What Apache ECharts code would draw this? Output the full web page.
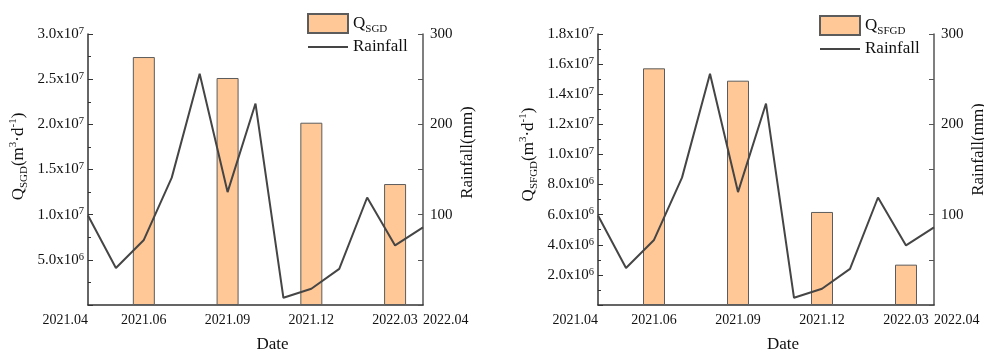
<!DOCTYPE html>
<html>
<head>
<meta charset="utf-8">
<script src="https://cdn.jsdelivr.net/npm/echarts@6/dist/echarts.min.js"></script>
<style>
  html, body { margin: 0; padding: 0; background: #fff; }
  #chart { width: 984px; height: 349px; }
</style>
</head>
<body>
<div id="chart"></div>
<script>
// Monthly rainfall series, April 2021 – April 2022
const months = ['2021.04', '2021.05', '2021.06', '2021.07', '2021.08', '2021.09', '2021.10',
                '2021.11', '2021.12', '2022.01', '2022.02', '2022.03', '2022.04'];
const rainfall = [99, 41, 72, 141, 256, 125, 223, 8, 18, 40, 119, 66, 86];

// Months labelled on the date axis
const shownMonths = ['2021.04', '2021.06', '2021.09', '2021.12', '2022.03', '2022.04'];

// Discharge estimates for the four sampling campaigns (m3/d)
const sampleMonths = ['2021.06', '2021.09', '2021.12', '2022.03'];
const qSGD = [2.745e7, 2.513e7, 2.018e7, 1.339e7];
const qSFGD = [1.572e7, 1.490e7, 6.18e6, 2.68e6];

const FONT = 'Liberation Serif';
const TEXT = '#111';
const AXIS = '#333';

const chart = echarts.init(document.getElementById('chart'));

// "a.bx10^n" labels with a raised exponent
function sciLabel(v) {
  if (v <= 0) return '';
  const e = Math.floor(Math.log10(v) + 1e-9);
  const m = (v / Math.pow(10, e)).toFixed(1);
  return '{m|' + m + 'x10}{s|' + e + '}';
}
const sciRich = {
  m: { fontFamily: FONT, fontSize: 15, lineHeight: 17, color: TEXT },
  s: { fontFamily: FONT, fontSize: 10.5, lineHeight: 11, verticalAlign: 'top', color: TEXT }
};
const titleRich = {
  q: { fontFamily: FONT, fontSize: 17, lineHeight: 22, color: TEXT },
  sub: { fontFamily: FONT, fontSize: 11, lineHeight: 12, verticalAlign: 'bottom', color: TEXT },
  sup: { fontFamily: FONT, fontSize: 11, lineHeight: 12, verticalAlign: 'top', color: TEXT }
};
const legendRich = {
  q: { fontFamily: FONT, fontSize: 17, lineHeight: 22, color: TEXT },
  sub: { fontFamily: FONT, fontSize: 11, lineHeight: 12, verticalAlign: 'bottom', color: TEXT }
};

const grids = [
  { left: 88, right: 561, top: 34, bottom: 44, outerBoundsMode: 'none' },
  { left: 598, right: 50, top: 34, bottom: 44, outerBoundsMode: 'none' }
];

function dateAxis(gridIndex) {
  return {
    type: 'category', gridIndex: gridIndex, data: months, boundaryGap: false,
    axisLine: { show: true, lineStyle: { color: AXIS, width: 1.5 } },
    axisTick: { show: false },
    splitLine: { show: false },
    axisLabel: {
      interval: (i, val) => shownMonths.indexOf(val) >= 0,
      fontFamily: FONT, fontSize: 14, color: TEXT, margin: 8,
      alignMinLabel: 'right', alignMaxLabel: 'left'
    },
    name: 'Date', nameLocation: 'middle', nameGap: 31,
    nameTextStyle: { fontFamily: FONT, fontSize: 17, color: TEXT, padding: [0, 0, 0, 34] }
  };
}

function qAxis(gridIndex, max, interval, title, shift) {
  return {
    type: 'value', gridIndex: gridIndex, position: 'left', min: 0, max: max, interval: interval,
    axisLine: { show: true, lineStyle: { color: AXIS, width: 1.5 } },
    axisTick: { show: true, inside: true, length: 5, lineStyle: { color: AXIS, width: 1 } },
    minorTick: { show: true, splitNumber: 2, length: 3, lineStyle: { color: AXIS, width: 1 } },
    splitLine: { show: false },
    axisLabel: { formatter: sciLabel, margin: 4, rich: sciRich },
    name: title, nameLocation: 'middle', nameRotate: 90, nameGap: 58,
    nameTextStyle: { rich: titleRich, padding: [0, 0, 0, shift] }
  };
}

function rainAxis(gridIndex, shift) {
  return {
    type: 'value', gridIndex: gridIndex, position: 'right', min: 0, max: 300, interval: 50,
    axisLine: { show: true, lineStyle: { color: '#555', width: 1.5 } },
    axisTick: { show: true, inside: true, length: 5, lineStyle: { color: '#555', width: 1 } },
    splitLine: { show: false },
    axisLabel: {
      formatter: v => (v > 0 && v % 100 === 0) ? String(v) : '',
      fontFamily: FONT, fontSize: 15, color: TEXT, margin: 7
    },
    name: 'Rainfall(mm)', nameLocation: 'middle', nameRotate: 90, nameGap: 36,
    nameTextStyle: { fontFamily: FONT, fontSize: 17, color: TEXT, padding: [0, 0, 0, shift] }
  };
}

function legendFor(left, top, qName, qSub) {
  return {
    left: left, top: top, orient: 'vertical', padding: 0,
    itemWidth: 40, itemHeight: 19, itemGap: 4, selectedMode: false,
    data: [
      { name: qName, icon: 'rect' },
      { name: 'Rainfall', itemStyle: { color: 'rgba(0,0,0,0)', borderWidth: 0, opacity: 0 } }
    ],
    formatter: n => n === qName ? '{q|Q}{sub|' + qSub + '}' : '{q|' + n + '}',
    textStyle: { fontFamily: FONT, fontSize: 17, color: TEXT, rich: legendRich }
  };
}

const barStyle = { color: '#FFC896', borderColor: '#5c5c5c', borderWidth: 1 };
const lineStyle = { color: '#454545', width: 2 };

chart.setOption({
  animation: false,
  backgroundColor: '#fff',
  grid: grids,
  xAxis: [dateAxis(0), dateAxis(1)],
  yAxis: [
    qAxis(0, 3e7, 5e6, '{q|Q}{sub|SGD}{q|(m}{sup|3}{q|·d}{sup|-1}{q|)}', 26),
    rainAxis(0, 34),
    qAxis(1, 1.8e7, 2e6, '{q|Q}{sub|SFGD}{q|(m}{sup|3}{q|·d}{sup|-1}{q|)}', 30),
    rainAxis(1, 40)
  ],
  legend: [
    legendFor(307, 13, 'Q_SGD', 'SGD'),
    legendFor(819, 15, 'Q_SFGD', 'SFGD')
  ],
  series: [
    {
      name: 'Q_SGD', type: 'bar', xAxisIndex: 0, yAxisIndex: 0, barWidth: 22,
      itemStyle: barStyle,
      data: sampleMonths.map((m, i) => [m, qSGD[i]])
    },
    {
      name: 'Rainfall', type: 'line', xAxisIndex: 0, yAxisIndex: 1, symbol: 'none', z: 3,
      lineStyle: lineStyle, itemStyle: { color: lineStyle.color },
      data: rainfall
    },
    {
      name: 'Q_SFGD', type: 'bar', xAxisIndex: 1, yAxisIndex: 2, barWidth: 22,
      itemStyle: barStyle,
      data: sampleMonths.map((m, i) => [m, qSFGD[i]])
    },
    {
      name: 'Rainfall', type: 'line', xAxisIndex: 1, yAxisIndex: 3, symbol: 'none', z: 3,
      lineStyle: lineStyle, itemStyle: { color: lineStyle.color },
      data: rainfall
    }
  ]
});
</script>
</body>
</html>
